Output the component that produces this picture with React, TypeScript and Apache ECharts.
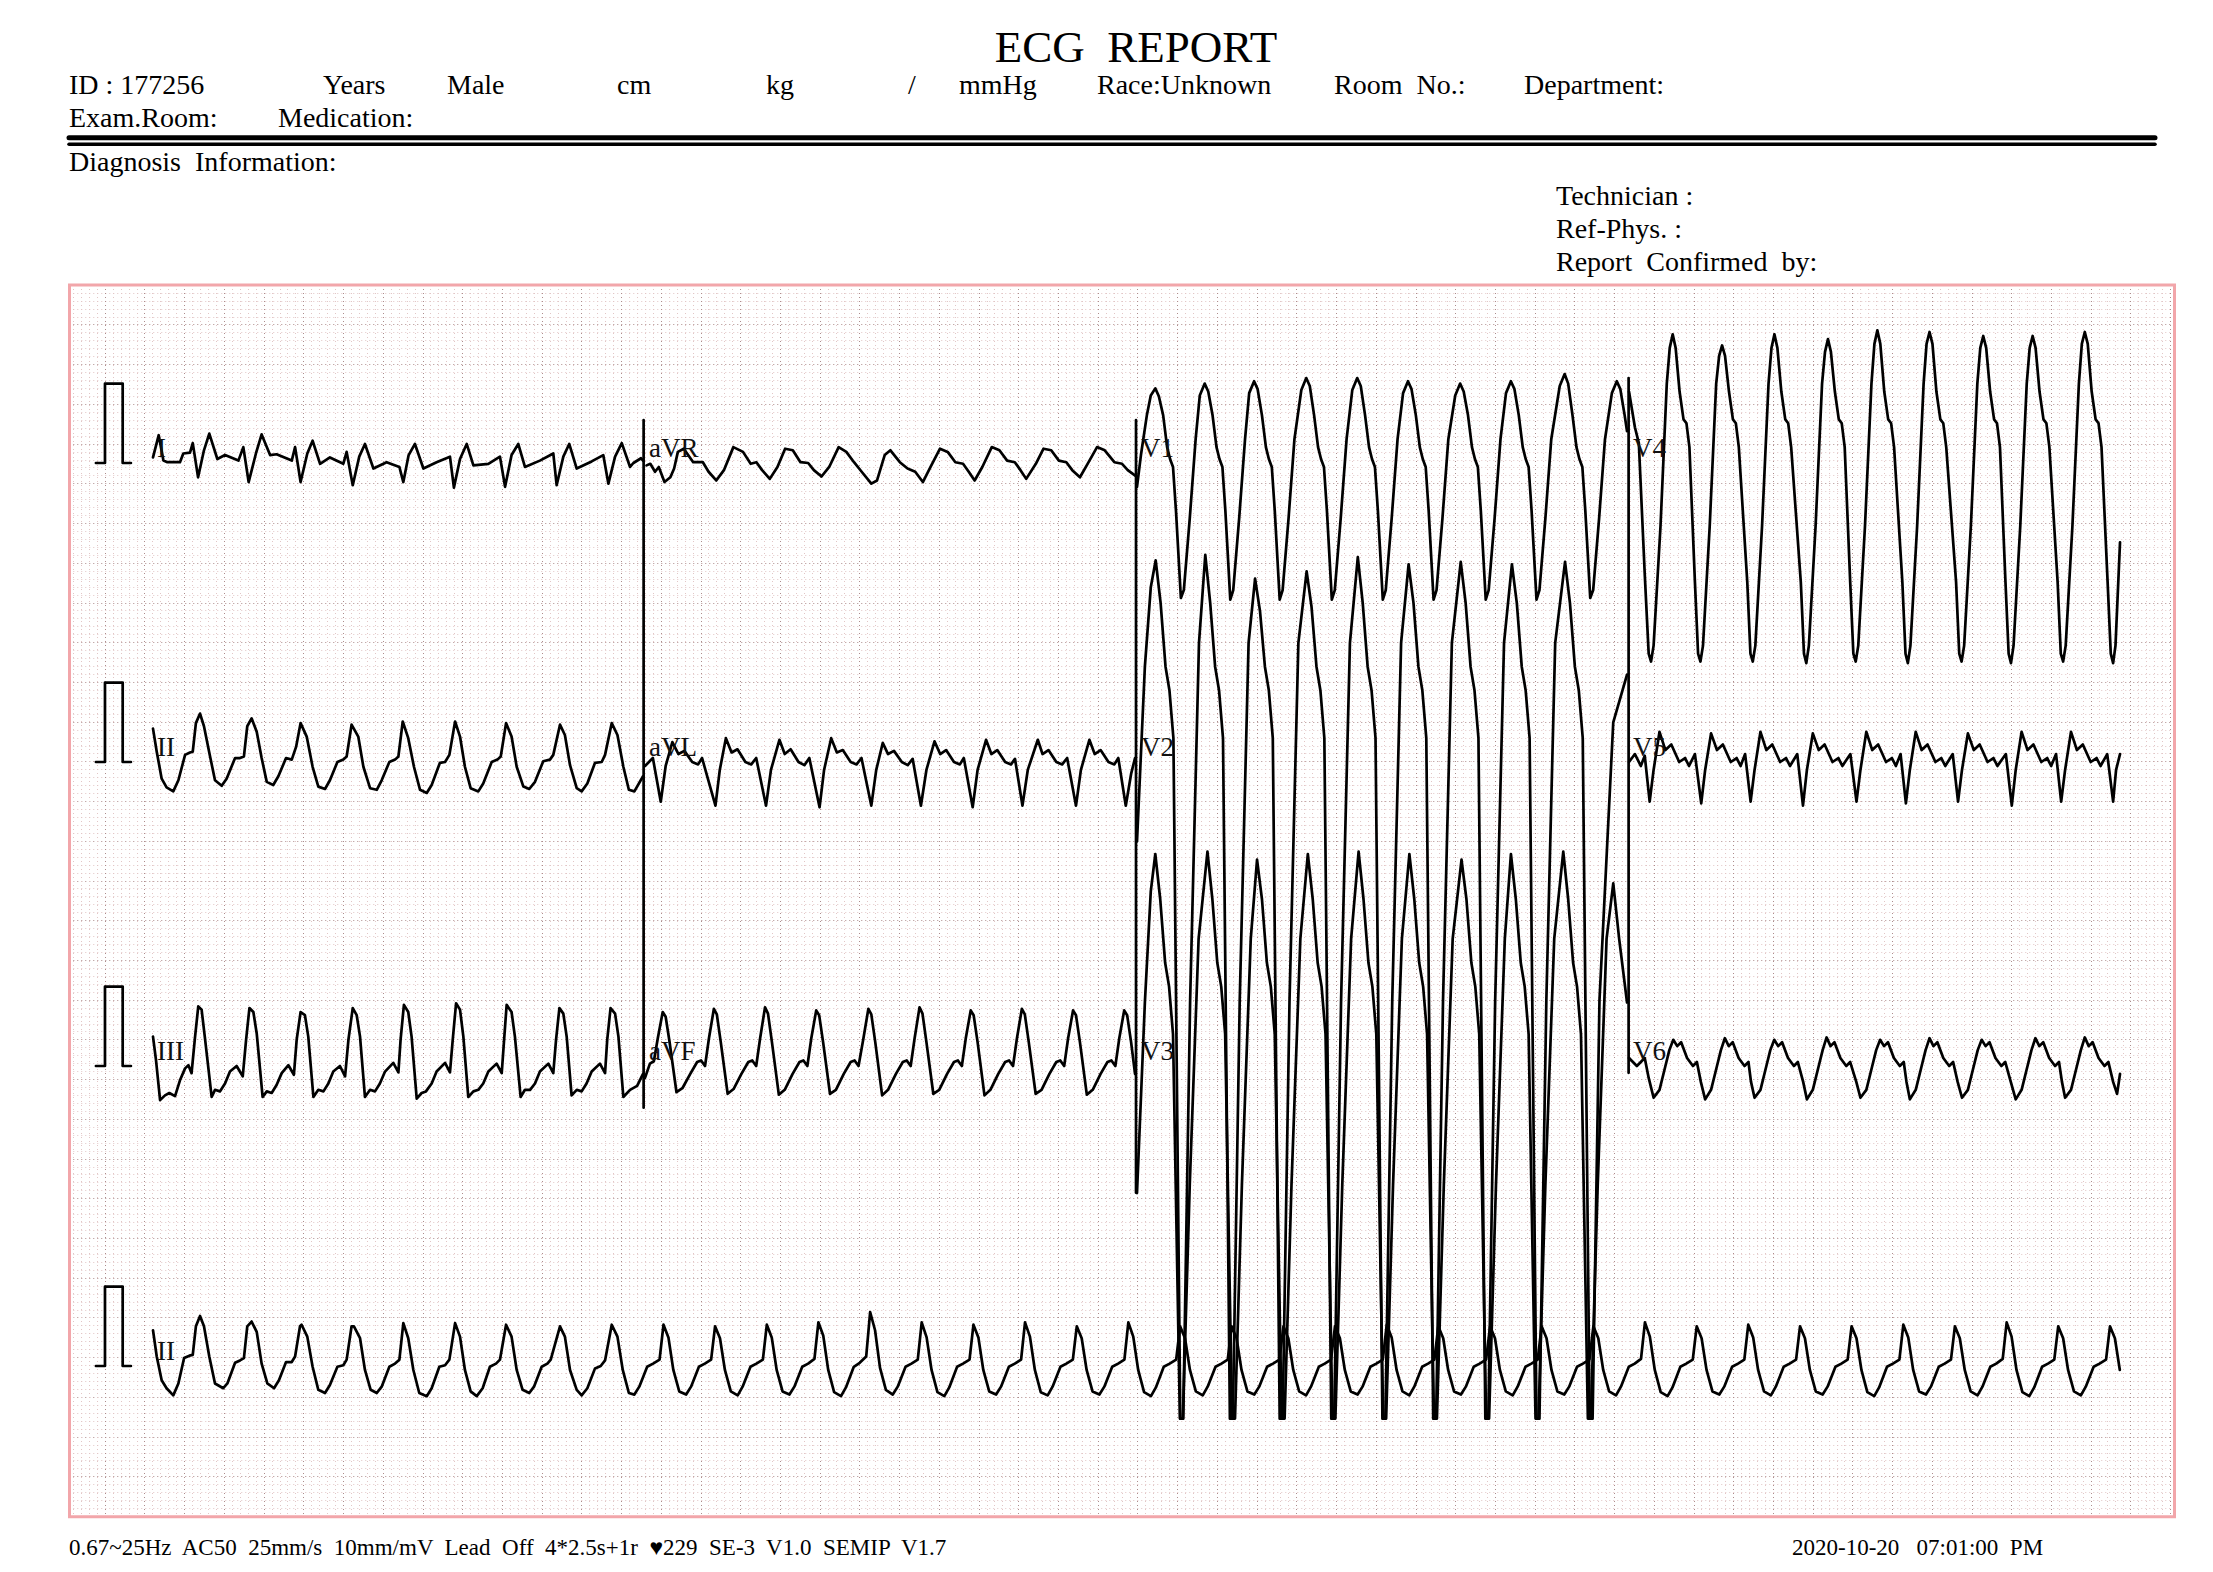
import React, { useEffect, useRef } from "react";
import * as echarts from "echarts";

// ---------------- data (t in s from lead start, v in mV) ----------------
const leadI: number[][] = [
  [0,0.07],[0.029,0.35],[0.053,0.03],[0.073,0.01],[0.137,0.01],[0.154,0.12],[0.188,0.13],[0.202,0.25],[0.229,-0.18],[0.259,0.16],[0.286,0.37],[0.327,0.05],[0.366,0.10],[0.434,0.03],[0.459,0.20],[0.486,-0.24],[0.523,0.12],[0.552,0.36],[0.595,0.10],[0.628,0.11],[0.705,0.03],[0.722,0.20],[0.750,-0.24],[0.784,0.12],[0.811,0.28],[0.849,-0.01],[0.899,0.07],[0.967,-0.01],[0.984,0.14],[1.015,-0.28],[1.048,0.08],[1.077,0.24],[1.12,-0.07],[1.187,0.01],[1.252,-0.05],[1.272,-0.24],[1.299,0.10],[1.331,0.24],[1.374,-0.07],[1.441,0.01],[1.509,0.08],[1.529,-0.31],[1.56,0.05],[1.594,0.24],[1.628,-0.03],[1.704,-0.01],[1.763,0.08],[1.789,-0.30],[1.822,0.10],[1.856,0.24],[1.89,-0.05],[1.966,0.03],[2.034,0.12],[2.051,-0.28],[2.085,0.08],[2.115,0.24],[2.153,-0.07],[2.229,0.02],[2.288,0.10],[2.314,-0.26],[2.348,0.08],[2.382,0.25],[2.424,-0.05],[2.441,0.0],[2.48,0.06],[2.49,0.03]
];
const leadII: number[][] = [
  [0,0.42],[0.019,0.13],[0.044,-0.21],[0.069,-0.32],[0.103,-0.37],[0.129,-0.23],[0.163,0.09],[0.188,0.12],[0.202,0.13],[0.218,0.49],[0.239,0.61],[0.259,0.45],[0.29,0.07],[0.315,-0.23],[0.349,-0.30],[0.374,-0.21],[0.417,0.05],[0.442,0.05],[0.462,0.07],[0.479,0.45],[0.501,0.55],[0.527,0.38],[0.552,0.05],[0.578,-0.25],[0.611,-0.29],[0.637,-0.18],[0.676,0.05],[0.705,0.03],[0.727,0.19],[0.750,0.49],[0.781,0.32],[0.811,-0.06],[0.84,-0.31],[0.874,-0.34],[0.899,-0.23],[0.937,0.0],[0.967,0.03],[0.984,0.07],[1.009,0.47],[1.043,0.32],[1.069,-0.06],[1.103,-0.33],[1.137,-0.35],[1.162,-0.23],[1.201,0.0],[1.23,0.03],[1.247,0.07],[1.269,0.51],[1.297,0.30],[1.326,-0.06],[1.357,-0.35],[1.391,-0.39],[1.416,-0.29],[1.458,-0.01],[1.484,0.0],[1.506,0.09],[1.535,0.51],[1.56,0.32],[1.585,-0.06],[1.614,-0.33],[1.653,-0.37],[1.678,-0.27],[1.721,0.0],[1.75,0.03],[1.767,0.07],[1.794,0.49],[1.822,0.32],[1.848,-0.06],[1.882,-0.31],[1.912,-0.34],[1.941,-0.25],[1.983,0.01],[2.017,0.03],[2.034,0.09],[2.068,0.47],[2.093,0.34],[2.119,-0.04],[2.153,-0.33],[2.178,-0.37],[2.207,-0.27],[2.246,-0.01],[2.28,0.0],[2.297,0.09],[2.331,0.49],[2.36,0.34],[2.39,-0.06],[2.418,-0.35],[2.446,-0.37],[2.49,-0.18]
];
const leadIII: number[][] = [
  [0,0.37],[0.015,0.08],[0.036,-0.43],[0.061,-0.37],[0.083,-0.34],[0.112,-0.38],[0.137,-0.18],[0.163,-0.03],[0.18,0.01],[0.196,-0.09],[0.213,0.35],[0.23,0.75],[0.247,0.71],[0.264,0.35],[0.298,-0.39],[0.315,-0.30],[0.34,-0.32],[0.366,-0.22],[0.391,-0.07],[0.425,0.0],[0.456,-0.13],[0.473,0.33],[0.49,0.73],[0.51,0.68],[0.527,0.41],[0.557,-0.39],[0.578,-0.32],[0.603,-0.34],[0.628,-0.24],[0.654,-0.09],[0.688,0.01],[0.716,-0.11],[0.73,0.33],[0.75,0.68],[0.772,0.64],[0.789,0.37],[0.815,-0.39],[0.84,-0.30],[0.866,-0.32],[0.891,-0.22],[0.916,-0.07],[0.95,0.0],[0.976,-0.13],[0.993,0.33],[1.015,0.73],[1.035,0.64],[1.052,0.37],[1.077,-0.39],[1.103,-0.30],[1.128,-0.32],[1.153,-0.22],[1.179,-0.07],[1.221,0.04],[1.247,-0.08],[1.258,0.33],[1.275,0.77],[1.297,0.68],[1.314,0.37],[1.34,-0.41],[1.365,-0.34],[1.387,-0.32],[1.416,-0.22],[1.441,-0.07],[1.484,0.04],[1.509,-0.08],[1.523,0.33],[1.54,0.79],[1.56,0.71],[1.577,0.37],[1.602,-0.39],[1.628,-0.32],[1.653,-0.30],[1.678,-0.22],[1.704,-0.07],[1.746,0.03],[1.772,-0.09],[1.784,0.33],[1.797,0.77],[1.822,0.68],[1.839,0.37],[1.868,-0.39],[1.89,-0.30],[1.916,-0.30],[1.941,-0.22],[1.966,-0.07],[2.009,0.03],[2.034,-0.09],[2.048,0.33],[2.065,0.73],[2.085,0.66],[2.102,0.37],[2.127,-0.37],[2.153,-0.30],[2.178,-0.32],[2.203,-0.22],[2.229,-0.07],[2.271,0.03],[2.297,-0.09],[2.308,0.33],[2.325,0.73],[2.348,0.66],[2.365,0.37],[2.39,-0.39],[2.424,-0.30],[2.46,-0.25],[2.49,-0.1]
];
const leadAVR: number[][] = [
  [0.008,-0.03],[0.027,-0.01],[0.051,-0.11],[0.07,-0.05],[0.099,-0.24],[0.129,-0.18],[0.148,-0.07],[0.167,0.14],[0.197,0.18],[0.245,0.01],[0.294,0.01],[0.323,-0.11],[0.362,-0.22],[0.401,-0.09],[0.449,0.20],[0.498,0.14],[0.537,-0.01],[0.566,0.01],[0.595,-0.09],[0.634,-0.20],[0.673,-0.05],[0.712,0.18],[0.751,0.16],[0.79,0.01],[0.829,0.0],[0.858,-0.09],[0.897,-0.17],[0.936,-0.05],[0.984,0.20],[1.023,0.14],[1.062,0.01],[1.101,-0.11],[1.15,-0.26],[1.179,-0.22],[1.218,0.10],[1.247,0.16],[1.295,0.01],[1.334,-0.07],[1.373,-0.11],[1.412,-0.24],[1.451,-0.05],[1.499,0.18],[1.538,0.14],[1.577,0.01],[1.616,-0.01],[1.645,-0.11],[1.675,-0.22],[1.714,-0.05],[1.762,0.20],[1.801,0.16],[1.84,0.03],[1.879,0.01],[1.908,-0.09],[1.937,-0.20],[1.986,-0.01],[2.025,0.18],[2.064,0.16],[2.103,0.03],[2.141,0.01],[2.171,-0.09],[2.21,-0.18],[2.249,-0.01],[2.297,0.20],[2.336,0.16],[2.385,0.01],[2.424,-0.01],[2.453,-0.09],[2.491,-0.16]
];
const leadAVL: number[][] = [
  [0,-0.05],[0.04,0.05],[0.08,-0.5],[0.105,-0.05],[0.139,0.25],[0.17,0.1],[0.2,0.14],[0.24,0.0],[0.27,-0.03],[0.29,0.05],
  [0.358,-0.55],[0.38,-0.1],[0.411,0.30],[0.44,0.12],[0.47,0.16],[0.51,0.0],[0.54,-0.03],[0.565,0.05],
  [0.615,-0.55],[0.64,-0.1],[0.683,0.28],[0.71,0.1],[0.74,0.16],[0.78,0.0],[0.81,-0.04],[0.835,0.05],
  [0.887,-0.57],[0.91,-0.1],[0.946,0.30],[0.975,0.12],[1.005,0.15],[1.045,0.0],[1.075,-0.03],[1.1,0.05],
  [1.15,-0.55],[1.175,-0.1],[1.208,0.24],[1.235,0.1],[1.265,0.14],[1.305,0.0],[1.335,-0.04],[1.36,0.04],
  [1.402,-0.55],[1.43,-0.1],[1.471,0.26],[1.5,0.1],[1.53,0.15],[1.57,0.0],[1.6,-0.03],[1.62,0.05],
  [1.665,-0.57],[1.69,-0.1],[1.733,0.28],[1.76,0.1],[1.79,0.15],[1.83,0.0],[1.86,-0.03],[1.88,0.04],
  [1.918,-0.55],[1.945,-0.1],[1.996,0.28],[2.02,0.1],[2.05,0.15],[2.09,0.0],[2.12,-0.03],[2.145,0.05],
  [2.19,-0.55],[2.215,-0.1],[2.258,0.28],[2.285,0.1],[2.315,0.15],[2.355,0.0],[2.385,-0.03],[2.405,0.05],
  [2.443,-0.55],[2.47,-0.15],[2.49,0.05]
];
const leadAVF: number[][] = [
  [0,-0.15],[0.025,0.03],[0.045,0.06],[0.065,0.35],
  [0.09,0.68],[0.105,0.62],[0.125,0.3],[0.16,-0.33],[0.19,-0.28],[0.23,-0.1],[0.265,0.05],[0.285,0.07],[0.305,0.0],[0.325,0.35],
  [0.35,0.72],[0.365,0.65],[0.385,0.3],[0.42,-0.35],[0.45,-0.29],[0.49,-0.1],[0.525,0.05],[0.545,0.07],[0.565,0.0],[0.585,0.35],
  [0.61,0.74],[0.625,0.66],[0.645,0.3],[0.68,-0.36],[0.71,-0.3],[0.75,-0.1],[0.785,0.05],[0.805,0.07],[0.825,0.0],[0.845,0.35],
  [0.87,0.70],[0.885,0.64],[0.905,0.3],[0.94,-0.35],[0.97,-0.3],[1.01,-0.1],[1.045,0.05],[1.065,0.07],[1.085,0.0],[1.11,0.35],
  [1.135,0.72],[1.15,0.65],[1.17,0.3],[1.205,-0.37],[1.235,-0.3],[1.275,-0.1],[1.31,0.05],[1.33,0.07],[1.35,0.0],[1.37,0.35],
  [1.395,0.74],[1.41,0.66],[1.43,0.3],[1.465,-0.35],[1.495,-0.3],[1.535,-0.1],[1.57,0.05],[1.59,0.07],[1.61,0.0],[1.63,0.35],
  [1.655,0.70],[1.67,0.64],[1.69,0.3],[1.725,-0.37],[1.755,-0.3],[1.795,-0.1],[1.83,0.05],[1.85,0.07],[1.87,0.0],[1.89,0.35],
  [1.915,0.72],[1.93,0.65],[1.95,0.3],[1.985,-0.35],[2.015,-0.3],[2.055,-0.1],[2.09,0.05],[2.11,0.07],[2.13,0.0],[2.15,0.35],
  [2.175,0.70],[2.19,0.64],[2.21,0.3],[2.245,-0.36],[2.275,-0.3],[2.315,-0.1],[2.35,0.05],[2.37,0.07],[2.39,0.0],[2.41,0.35],
  [2.435,0.70],[2.45,0.64],[2.47,0.3],[2.49,-0.1]
];
const leadV1: number[][] = [
  [0,-0.3],[0.02,0.1],[0.05,0.6],[0.07,0.85],
  [0.093,0.94],[0.111,0.84],[0.133,0.6],[0.153,0.2],[0.168,0.05],[0.183,-0.05],[0.198,-0.6],[0.223,-1.7],[0.238,-1.6],[0.268,-0.7],[0.298,0.3],[0.319,0.85],
  [0.344,1.0],[0.362,0.9],[0.384,0.6],[0.404,0.2],[0.419,0.05],[0.434,-0.05],[0.449,-0.6],[0.474,-1.72],[0.489,-1.6],[0.519,-0.7],[0.549,0.3],[0.57,0.88],
  [0.595,1.03],[0.613,0.93],[0.635,0.6],[0.655,0.2],[0.67,0.05],[0.685,-0.05],[0.7,-0.6],[0.725,-1.72],[0.74,-1.6],[0.77,-0.7],[0.8,0.3],[0.835,0.92],
  [0.86,1.07],[0.878,0.97],[0.9,0.6],[0.92,0.2],[0.935,0.05],[0.95,-0.05],[0.965,-0.6],[0.99,-1.72],[1.005,-1.6],[1.035,-0.7],[1.065,0.3],[1.094,0.92],
  [1.119,1.07],[1.137,0.97],[1.159,0.6],[1.179,0.2],[1.194,0.05],[1.209,-0.05],[1.224,-0.6],[1.249,-1.72],[1.264,-1.6],[1.294,-0.7],[1.324,0.3],[1.352,0.88],
  [1.377,1.03],[1.395,0.93],[1.417,0.6],[1.437,0.2],[1.452,0.05],[1.467,-0.05],[1.482,-0.6],[1.507,-1.72],[1.522,-1.6],[1.552,-0.7],[1.582,0.3],[1.617,0.85],
  [1.642,1.0],[1.66,0.9],[1.682,0.6],[1.702,0.2],[1.717,0.05],[1.732,-0.05],[1.747,-0.6],[1.772,-1.72],[1.787,-1.6],[1.817,-0.7],[1.847,0.3],[1.875,0.88],
  [1.9,1.03],[1.918,0.93],[1.94,0.6],[1.96,0.2],[1.975,0.05],[1.99,-0.05],[2.005,-0.6],[2.03,-1.72],[2.045,-1.6],[2.075,-0.7],[2.105,0.3],[2.148,0.97],
  [2.173,1.12],[2.191,1.0],[2.213,0.6],[2.233,0.2],[2.248,0.05],[2.263,-0.05],[2.278,-0.6],[2.303,-1.7],[2.318,-1.6],[2.348,-0.7],[2.378,0.3],[2.413,0.88],
  [2.438,1.03],[2.456,0.93],[2.478,0.6],[2.49,0.4]
];
const leadV2: number[][] = [
  [0,-1.0],[0.04,1.2],[0.07,2.2],
  [0.095,2.54],[0.12,2.0],[0.145,1.2],[0.165,0.9],[0.185,0.3],[0.22,-8.27],[0.235,-8.27],[0.27,-3.0],[0.315,1.5],
  [0.347,2.61],[0.372,2.0],[0.397,1.2],[0.417,0.9],[0.437,0.3],[0.472,-8.27],[0.487,-8.27],[0.522,-3.0],[0.567,1.5],
  [0.6,2.31],[0.625,1.9],[0.65,1.2],[0.67,0.9],[0.69,0.3],[0.725,-8.27],[0.74,-8.27],[0.775,-3.0],[0.82,1.5],
  [0.862,2.4],[0.887,1.95],[0.912,1.2],[0.932,0.9],[0.952,0.3],[0.987,-8.27],[1.002,-8.27],[1.037,-3.0],[1.082,1.5],
  [1.122,2.58],[1.147,2.0],[1.172,1.2],[1.192,0.9],[1.212,0.3],[1.247,-8.27],[1.262,-8.27],[1.297,-3.0],[1.342,1.5],
  [1.38,2.49],[1.405,2.0],[1.43,1.2],[1.45,0.9],[1.47,0.3],[1.505,-8.27],[1.52,-8.27],[1.555,-3.0],[1.6,1.5],
  [1.645,2.52],[1.67,2.0],[1.695,1.2],[1.715,0.9],[1.735,0.3],[1.77,-8.27],[1.785,-8.27],[1.82,-3.0],[1.865,1.5],
  [1.905,2.49],[1.93,2.0],[1.955,1.2],[1.975,0.9],[1.995,0.3],[2.03,-8.27],[2.045,-8.27],[2.08,-3.0],[2.125,1.5],
  [2.175,2.52],[2.2,2.0],[2.225,1.2],[2.245,0.9],[2.265,0.3],[2.3,-8.27],[2.315,-8.27],[2.35,-3.0],[2.42,0.5],[2.49,1.1]
];
const leadV3: number[][] = [
  [0,-1.6],[0.04,0.8],[0.07,2.2],
  [0.093,2.67],[0.118,2.1],[0.143,1.3],[0.163,1.0],[0.183,0.4],[0.218,-4.44],[0.233,-4.44],[0.268,-1.5],[0.313,1.6],
  [0.358,2.7],[0.383,2.1],[0.408,1.3],[0.428,1.0],[0.448,0.4],[0.483,-4.44],[0.498,-4.44],[0.533,-1.5],[0.578,1.6],
  [0.61,2.6],[0.635,2.1],[0.66,1.3],[0.68,1.0],[0.7,0.4],[0.735,-4.44],[0.75,-4.44],[0.785,-1.5],[0.83,1.6],
  [0.868,2.67],[0.893,2.1],[0.918,1.3],[0.938,1.0],[0.958,0.4],[0.993,-4.44],[1.008,-4.44],[1.043,-1.5],[1.088,1.6],
  [1.126,2.7],[1.151,2.1],[1.176,1.3],[1.196,1.0],[1.216,0.4],[1.251,-4.44],[1.266,-4.44],[1.301,-1.5],[1.346,1.6],
  [1.384,2.67],[1.409,2.1],[1.434,1.3],[1.454,1.0],[1.474,0.4],[1.509,-4.44],[1.524,-4.44],[1.559,-1.5],[1.604,1.6],
  [1.649,2.6],[1.674,2.1],[1.699,1.3],[1.719,1.0],[1.739,0.4],[1.774,-4.44],[1.789,-4.44],[1.824,-1.5],[1.869,1.6],
  [1.9,2.67],[1.925,2.1],[1.95,1.3],[1.97,1.0],[1.99,0.4],[2.025,-4.44],[2.04,-4.44],[2.075,-1.5],[2.12,1.6],
  [2.166,2.7],[2.191,2.1],[2.216,1.3],[2.236,1.0],[2.256,0.4],[2.291,-4.44],[2.306,-4.44],[2.341,-1.5],[2.386,1.6],
  [2.42,2.3],[2.45,1.6],[2.49,0.8]
];
const leadV4: number[][] = [
  [0,0.9],[0.03,0.45],[0.05,0.25],[0.08,-1.4],[0.1,-2.4],[0.112,-2.5],[0.125,-2.3],[0.16,-0.8],[0.192,1.0],[0.207,1.45],
  [0.222,1.62],[0.237,1.45],[0.257,0.9],[0.277,0.55],[0.292,0.5],[0.307,0.2],[0.335,-1.5],[0.351,-2.4],[0.363,-2.5],[0.376,-2.3],[0.41,-0.8],[0.443,1.0],[0.458,1.35],
  [0.473,1.48],[0.488,1.35],[0.508,0.9],[0.528,0.55],[0.543,0.5],[0.558,0.2],[0.601,-1.5],[0.617,-2.4],[0.629,-2.5],[0.642,-2.3],[0.676,-0.8],[0.709,1.0],[0.724,1.45],
  [0.739,1.62],[0.754,1.45],[0.774,0.9],[0.794,0.55],[0.809,0.5],[0.824,0.2],[0.873,-1.5],[0.889,-2.4],[0.901,-2.52],[0.914,-2.3],[0.948,-0.8],[0.981,1.0],[0.996,1.4],
  [1.011,1.56],[1.026,1.4],[1.046,0.9],[1.066,0.55],[1.081,0.5],[1.096,0.2],[1.124,-1.5],[1.14,-2.4],[1.152,-2.5],[1.165,-2.3],[1.199,-0.8],[1.232,1.0],[1.247,1.5],
  [1.262,1.67],[1.277,1.5],[1.297,0.9],[1.317,0.55],[1.332,0.5],[1.347,0.2],[1.389,-1.5],[1.405,-2.4],[1.417,-2.52],[1.43,-2.3],[1.464,-0.8],[1.497,1.0],[1.512,1.5],
  [1.527,1.65],[1.542,1.5],[1.562,0.9],[1.582,0.55],[1.597,0.5],[1.612,0.2],[1.662,-1.5],[1.678,-2.4],[1.69,-2.5],[1.703,-2.3],[1.737,-0.8],[1.77,1.0],[1.785,1.45],
  [1.8,1.6],[1.815,1.45],[1.835,0.9],[1.855,0.55],[1.87,0.5],[1.885,0.2],[1.913,-1.5],[1.929,-2.4],[1.941,-2.52],[1.954,-2.3],[1.988,-0.8],[2.021,1.0],[2.036,1.45],
  [2.051,1.6],[2.066,1.45],[2.086,0.9],[2.106,0.55],[2.121,0.5],[2.136,0.2],[2.178,-1.5],[2.194,-2.4],[2.206,-2.5],[2.219,-2.3],[2.253,-0.8],[2.286,1.0],[2.301,1.5],
  [2.316,1.65],[2.331,1.5],[2.351,0.9],[2.371,0.55],[2.386,0.5],[2.401,0.2],[2.432,-1.5],[2.448,-2.4],[2.46,-2.52],[2.472,-2.3],[2.495,-1.0]
];
const leadV5: number[][] = [
  [0,0.0],[0.03,0.1],[0.06,-0.05],[0.08,0.08],
  [0.105,-0.5],[0.125,-0.1],[0.155,0.38],[0.185,0.15],[0.215,0.22],[0.255,0.0],[0.285,0.05],[0.305,-0.05],[0.335,0.1],
  [0.367,-0.52],[0.387,-0.1],[0.417,0.36],[0.447,0.15],[0.477,0.22],[0.517,0.0],[0.547,0.05],[0.567,-0.05],[0.59,0.1],
  [0.618,-0.5],[0.638,-0.1],[0.668,0.38],[0.698,0.15],[0.728,0.22],[0.768,0.0],[0.798,0.05],[0.818,-0.05],[0.855,0.1],
  [0.884,-0.55],[0.904,-0.1],[0.934,0.36],[0.964,0.15],[0.994,0.22],[1.034,0.0],[1.064,0.05],[1.084,-0.05],[1.125,0.1],
  [1.156,-0.5],[1.176,-0.1],[1.206,0.38],[1.236,0.15],[1.266,0.22],[1.306,0.0],[1.336,0.05],[1.356,-0.05],[1.38,0.1],
  [1.407,-0.52],[1.427,-0.1],[1.457,0.38],[1.487,0.15],[1.517,0.22],[1.557,0.0],[1.587,0.05],[1.607,-0.05],[1.645,0.1],
  [1.672,-0.5],[1.692,-0.1],[1.722,0.36],[1.752,0.15],[1.782,0.22],[1.822,0.0],[1.852,0.05],[1.872,-0.05],[1.915,0.1],
  [1.945,-0.55],[1.965,-0.1],[1.995,0.38],[2.025,0.15],[2.055,0.22],[2.095,0.0],[2.125,0.05],[2.145,-0.05],[2.17,0.1],
  [2.196,-0.5],[2.216,-0.1],[2.246,0.38],[2.276,0.15],[2.306,0.22],[2.346,0.0],[2.376,0.05],[2.396,-0.05],[2.43,0.1],
  [2.46,-0.5],[2.475,-0.1],[2.495,0.1]
];
const leadV6: number[][] = [
  [0,0.1],[0.04,0.0],[0.08,0.1],[0.1,-0.15],
  [0.125,-0.4],[0.155,-0.3],[0.185,0.0],[0.205,0.2],[0.225,0.33],[0.245,0.25],[0.265,0.3],[0.295,0.1],[0.325,0.0],[0.345,0.05],[0.365,-0.2],
  [0.387,-0.42],[0.417,-0.3],[0.447,0.0],[0.467,0.2],[0.487,0.35],[0.507,0.25],[0.527,0.3],[0.557,0.1],[0.587,0.0],[0.607,0.05],[0.62,-0.2],
  [0.638,-0.4],[0.668,-0.3],[0.698,0.0],[0.718,0.2],[0.738,0.33],[0.758,0.25],[0.778,0.3],[0.808,0.1],[0.838,0.0],[0.858,0.05],[0.885,-0.2],
  [0.904,-0.42],[0.934,-0.3],[0.964,0.0],[0.984,0.2],[1.004,0.36],[1.024,0.25],[1.044,0.3],[1.074,0.1],[1.104,0.0],[1.124,0.05],[1.155,-0.2],
  [1.176,-0.4],[1.206,-0.3],[1.236,0.0],[1.256,0.2],[1.276,0.33],[1.296,0.25],[1.316,0.3],[1.346,0.1],[1.376,0.0],[1.396,0.05],[1.41,-0.2],
  [1.427,-0.42],[1.457,-0.3],[1.487,0.0],[1.507,0.2],[1.527,0.35],[1.547,0.25],[1.567,0.3],[1.597,0.1],[1.627,0.0],[1.647,0.05],[1.67,-0.2],
  [1.692,-0.4],[1.722,-0.3],[1.752,0.0],[1.772,0.2],[1.792,0.33],[1.812,0.25],[1.832,0.3],[1.862,0.1],[1.892,0.0],[1.912,0.05],[1.94,-0.2],
  [1.965,-0.42],[1.995,-0.3],[2.025,0.0],[2.045,0.2],[2.065,0.35],[2.085,0.25],[2.105,0.3],[2.135,0.1],[2.165,0.0],[2.185,0.05],[2.2,-0.2],
  [2.216,-0.4],[2.246,-0.3],[2.276,0.0],[2.296,0.2],[2.316,0.36],[2.336,0.25],[2.356,0.3],[2.386,0.1],[2.416,0.0],[2.436,0.05],[2.46,-0.2],
  [2.48,-0.35],[2.495,-0.1]
];
// rhythm strip II, 10 s (t from the start of the strip)
const rhythmII: number[][] = [
  [0,0.45],[0.019,0.12],[0.044,-0.18],[0.069,-0.28],[0.103,-0.37],[0.129,-0.22],[0.158,0.10],[0.185,0.13],[0.202,0.14],[0.218,0.50],[0.239,0.63],[0.259,0.50],[0.286,0.12],[0.315,-0.22],[0.357,-0.28],[0.378,-0.22],[0.417,0.04],[0.442,0.07],[0.462,0.10],[0.479,0.50],[0.501,0.56],[0.527,0.43],[0.552,0.03],[0.581,-0.22],[0.615,-0.28],[0.64,-0.18],[0.676,0.05],[0.705,0.05],[0.722,0.12],[0.747,0.50],[0.755,0.52],[0.784,0.37],[0.811,-0.01],[0.84,-0.30],[0.874,-0.34],[0.899,-0.24],[0.937,-0.01],[0.967,0.01],[0.984,0.08],[1.009,0.50],[1.021,0.50],[1.052,0.35],[1.077,-0.05],[1.106,-0.30],[1.137,-0.34],[1.162,-0.26],[1.201,-0.01],[1.23,0.03],[1.252,0.08],[1.272,0.54],[1.297,0.35],[1.323,-0.05],[1.353,-0.34],[1.391,-0.38],[1.416,-0.28],[1.455,-0.01],[1.484,0.01],[1.506,0.08],[1.535,0.54],[1.56,0.37],[1.585,-0.05],[1.614,-0.32],[1.645,-0.38],[1.675,-0.28],[1.712,-0.01],[1.743,0.03],[1.763,0.08],[1.794,0.52],[1.822,0.37],[1.848,-0.05],[1.878,-0.30],[1.912,-0.34],[1.936,-0.26],[1.975,-0.01],[2.004,0.03],[2.021,0.08],[2.068,0.50],[2.093,0.37],[2.119,-0.05],[2.153,-0.30],[2.178,-0.37],[2.207,-0.28],[2.246,-0.03],[2.275,0.0],[2.297,0.07],[2.331,0.52],[2.36,0.37],[2.387,-0.05],[2.418,-0.34],
  [2.446,-0.36],[2.471,-0.26],[2.511,-0.01],[2.541,0.03],
  [2.574,0.08],[2.594,0.52],[2.619,0.36],[2.644,-0.05],[2.674,-0.32],[2.709,-0.36],[2.734,-0.26],[2.774,-0.01],[2.804,0.03],
  [2.836,0.08],[2.856,0.50],[2.881,0.35],[2.906,-0.05],[2.936,-0.32],[2.971,-0.37],[2.996,-0.26],[3.036,-0.01],[3.066,0.03],
  [3.099,0.08],[3.119,0.52],[3.144,0.36],[3.169,-0.05],[3.199,-0.32],[3.234,-0.36],[3.259,-0.26],[3.299,-0.01],[3.329,0.03],
  [3.361,0.09],[3.381,0.55],[3.406,0.38],[3.431,-0.05],[3.461,-0.33],[3.496,-0.38],[3.521,-0.27],[3.561,-0.01],[3.591,0.04],
  [3.624,0.12],[3.644,0.68],[3.669,0.45],[3.694,-0.02],[3.724,-0.30],[3.759,-0.36],[3.784,-0.26],[3.824,-0.01],[3.854,0.03],
  [3.886,0.08],[3.906,0.55],[3.931,0.36],[3.956,-0.05],[3.986,-0.33],[4.021,-0.38],[4.046,-0.27],[4.086,-0.01],[4.116,0.03],
  [4.149,0.08],[4.169,0.52],[4.194,0.36],[4.219,-0.05],[4.249,-0.32],[4.284,-0.36],[4.309,-0.26],[4.349,-0.01],[4.379,0.03],
  [4.411,0.08],[4.431,0.55],[4.456,0.37],[4.481,-0.05],[4.511,-0.33],[4.546,-0.37],[4.571,-0.26],[4.611,-0.01],[4.641,0.03],
  [4.674,0.08],[4.694,0.50],[4.719,0.35],[4.744,-0.05],[4.774,-0.32],[4.809,-0.36],[4.834,-0.26],[4.874,-0.01],[4.904,0.03],
  [4.936,0.08],[4.956,0.55],[4.981,0.37],[5.006,-0.05],[5.036,-0.33],[5.071,-0.38],[5.096,-0.27],[5.136,-0.01],[5.166,0.03],
  [5.199,0.08],[5.219,0.50],[5.244,0.35],[5.269,-0.05],[5.299,-0.32],[5.334,-0.37],[5.359,-0.26],[5.399,-0.01],[5.429,0.03],
  [5.461,0.08],[5.481,0.50],[5.506,0.35],[5.531,-0.05],[5.561,-0.32],[5.596,-0.36],[5.621,-0.26],[5.661,-0.01],[5.691,0.03],
  [5.724,0.08],[5.744,0.50],[5.769,0.35],[5.794,-0.05],[5.824,-0.32],[5.859,-0.37],[5.884,-0.26],[5.924,-0.01],[5.954,0.03],
  [5.986,0.08],[6.006,0.50],[6.031,0.35],[6.056,-0.05],[6.086,-0.32],[6.121,-0.36],[6.146,-0.26],[6.186,-0.01],[6.216,0.03],
  [6.249,0.08],[6.269,0.52],[6.294,0.36],[6.319,-0.05],[6.349,-0.32],[6.384,-0.37],[6.409,-0.26],[6.449,-0.01],[6.479,0.03],
  [6.511,0.08],[6.531,0.50],[6.556,0.35],[6.581,-0.05],[6.611,-0.32],[6.646,-0.36],[6.671,-0.26],[6.711,-0.01],[6.741,0.03],
  [6.774,0.08],[6.794,0.50],[6.819,0.35],[6.844,-0.05],[6.874,-0.32],[6.909,-0.37],[6.934,-0.26],[6.974,-0.01],[7.004,0.03],
  [7.036,0.08],[7.056,0.50],[7.081,0.35],[7.106,-0.05],[7.136,-0.32],[7.171,-0.36],[7.196,-0.26],[7.236,-0.01],[7.266,0.03],
  [7.299,0.08],[7.319,0.50],[7.344,0.35],[7.369,-0.05],[7.399,-0.32],[7.434,-0.37],[7.459,-0.26],[7.499,-0.01],[7.529,0.03],
  [7.561,0.09],[7.581,0.55],[7.606,0.37],[7.631,-0.05],[7.661,-0.33],[7.696,-0.38],[7.721,-0.27],[7.761,-0.01],[7.791,0.03],
  [7.824,0.08],[7.844,0.50],[7.869,0.35],[7.894,-0.05],[7.924,-0.32],[7.959,-0.36],[7.984,-0.26],[8.024,-0.01],[8.054,0.03],
  [8.086,0.08],[8.106,0.52],[8.131,0.36],[8.156,-0.05],[8.186,-0.32],[8.221,-0.37],[8.246,-0.26],[8.286,-0.01],[8.316,0.03],
  [8.349,0.08],[8.369,0.50],[8.394,0.35],[8.419,-0.05],[8.449,-0.32],[8.484,-0.36],[8.509,-0.26],[8.549,-0.01],[8.579,0.03],
  [8.611,0.08],[8.631,0.50],[8.656,0.35],[8.681,-0.05],[8.711,-0.33],[8.746,-0.38],[8.771,-0.27],[8.811,-0.01],[8.841,0.03],
  [8.874,0.08],[8.894,0.52],[8.919,0.36],[8.944,-0.05],[8.974,-0.32],[9.009,-0.36],[9.034,-0.26],[9.074,-0.01],[9.104,0.03],
  [9.136,0.08],[9.156,0.50],[9.181,0.35],[9.206,-0.05],[9.236,-0.32],[9.271,-0.37],[9.296,-0.26],[9.336,-0.01],[9.366,0.03],
  [9.399,0.09],[9.419,0.55],[9.444,0.37],[9.469,-0.05],[9.499,-0.33],[9.534,-0.38],[9.559,-0.27],[9.599,-0.01],[9.629,0.03],
  [9.661,0.08],[9.681,0.50],[9.706,0.35],[9.731,-0.05],[9.761,-0.32],[9.796,-0.37],[9.821,-0.26],[9.861,-0.01],[9.891,0.03],
  [9.924,0.08],[9.944,0.50],[9.969,0.35],[9.994,-0.05]
];

// calibration pulse (1 mV), times relative to the row's first lead
const calT = [-0.29, -0.244, -0.244, -0.154, -0.154, -0.112];
const calV = [0, 0, 1, 1, 0, 0];

const leadNames = ["I", "II", "III", "aVR", "aVL", "aVF", "V1", "V2", "V3", "V4", "V5", "V6"];
const leadData = [leadI, leadII, leadIII, leadAVR, leadAVL, leadAVF, leadV1, leadV2, leadV3, leadV4, leadV5, leadV6];
const segStarts = [0, 2.5, 5, 7.5];
// lead-change markers (drawn on row 1's axes, mV)
const markerT = [2.493, 4.995, 7.498];
const markerTop = [0.54, 0.54, 1.07];
const markerBottom = [-8.12, -9.19, -7.68];

const headerLine1 = ["ID : 177256", "Years", "Male", "cm", "kg", "/", "mmHg", "Race:Unknown", "Room  No.:", "Department:"];
const headerLine2 = ["Exam.Room:", "Medication:"];
const signLines = ["Technician :", "Ref-Phys. :", "Report  Confirmed  by:"];
const footerLeft = "0.67~25Hz  AC50  25mm/s  10mm/mV  Lead  Off  4*2.5s+1r  \u2665229  SE-3  V1.0  SEMIP  V1.7";
const footerRight = "2020-10-20   07:01:00  PM";

// ---------------- layout ----------------
const PX_S = 196.8;
const PX_MV = 79.4;
const X0 = 153;
const T_MIN = -0.4;
const ROW_BASE = [463, 762, 1066, 1366];
const MM = 7.944;
const PAPER_L = 65.28, PAPER_T = 285, PAPER_R = 2175, PAPER_B = 1516.7;
const FONT = '"Liberation Serif", "Times New Roman", serif';

function buildOption() {
  const grids: any[] = [{ left: PAPER_L, top: PAPER_T, width: PAPER_R - PAPER_L, height: PAPER_B - PAPER_T }];
  const xAxes: any[] = [];
  const yAxes: any[] = [];
  const hidden = { axisLine: { show: false }, axisTick: { show: false }, axisLabel: { show: false } };
  const major = { color: "#ad8c8c", width: 1, type: [1, 3] };
  const minor = { color: "#e2c6c6", width: 1, type: [1, 3] };
  xAxes.push({ type: "value", gridIndex: 0, min: 0, max: (PAPER_R - PAPER_L) / MM, interval: 5, ...hidden,
    splitLine: { show: true, showMinLine: false, showMaxLine: false, lineStyle: major },
    minorTick: { show: false, splitNumber: 5 }, minorSplitLine: { show: true, lineStyle: minor } });
  yAxes.push({ type: "value", gridIndex: 0, min: 0, max: (PAPER_B - PAPER_T) / MM, interval: 5, inverse: true, ...hidden,
    splitLine: { show: true, showMinLine: false, showMaxLine: false, lineStyle: major },
    minorTick: { show: false, splitNumber: 5 }, minorSplitLine: { show: true, lineStyle: minor } });
  ROW_BASE.forEach((b, i) => {
    grids.push({ left: X0 + T_MIN * PX_S, width: PX_S * (10 - T_MIN), top: b - 2 * PX_MV, height: 4 * PX_MV });
    xAxes.push({ type: "value", gridIndex: i + 1, min: T_MIN, max: 10, ...hidden, splitLine: { show: false } });
    yAxes.push({ type: "value", gridIndex: i + 1, min: -2, max: 2, ...hidden, splitLine: { show: false } });
  });

  const lineStyle = { color: "#000", width: 2.7, join: "round", cap: "round" };
  const series: any[] = [];
  const mk = (name: string, row: number, data: number[][]) => ({
    type: "line", name, xAxisIndex: row + 1, yAxisIndex: row + 1, data, symbol: "none", showSymbol: false,
    clip: false, silent: true, lineStyle, z: 3, animation: false,
  });
  leadNames.forEach((n, k) => {
    const row = k % 3;
    const seg = Math.floor(k / 3);
    series.push(mk(n, row, leadData[k].map(([t, v]) => [t + segStarts[seg], v])));
  });
  series.push(mk("II rhythm", 3, rhythmII));
  ROW_BASE.forEach((_, r) => {
    series.push(mk("cal" + r, r, calT.map((t, i) => [t, calV[i]])));
  });
  markerT.forEach((t, i) => {
    series.push(mk("marker" + i, 0, [[t, markerTop[i]], [t, markerBottom[i]]]));
  });

  const txt = (text: string, x: number, y: number, size: number, align = "left", extra: any = {}) => ({
    type: "text", x, y, z: 20, silent: true,
    style: { text, font: `${size}px ${FONT}`, fill: "#000", align, verticalAlign: "middle", ...extra },
  });
  const l1x = [69, 323, 447, 617, 766, 908, 959, 1097, 1334, 1524];
  const graphic: any[] = [];
  graphic.push(txt("ECG  REPORT", 1136, 47, 45, "center"));
  headerLine1.forEach((s, i) => graphic.push(txt(s, l1x[i], 84, 28)));
  graphic.push(txt(headerLine2[0], 69, 117, 28));
  graphic.push(txt(headerLine2[1], 278, 117, 28));
  graphic.push({ type: "line", z: 20, shape: { x1: 69, y1: 137.7, x2: 2155, y2: 137.7 }, style: { stroke: "#000", lineWidth: 5, lineCap: "round" } });
  graphic.push({ type: "line", z: 20, shape: { x1: 69, y1: 144.2, x2: 2155, y2: 144.2 }, style: { stroke: "#000", lineWidth: 3.5, lineCap: "round" } });
  graphic.push(txt("Diagnosis  Information:", 69, 161, 28));
  signLines.forEach((s, i) => graphic.push(txt(s, 1556, 195 + i * 33, 28)));
  graphic.push({ type: "rect", z: 5, shape: { x: 55, y: 278, width: 13.5, height: 1245 }, style: { fill: "#fff" } });
  graphic.push({ type: "rect", z: 6, shape: { x: 69.5, y: 285, width: 2105, height: 1231.7 }, style: { fill: "none", stroke: "#f2a6aa", lineWidth: 3 } });
  graphic.push(txt(footerLeft, 69, 1547, 23));
  graphic.push(txt(footerRight, 1792, 1547, 23));
  leadNames.forEach((n, k) => {
    const row = k % 3;
    const seg = Math.floor(k / 3);
    graphic.push(txt(n, X0 + segStarts[seg] * PX_S + 4, ROW_BASE[row] - 15, 27, "left", { fill: "#111" }));
  });
  graphic.push(txt("II", X0 + 4, ROW_BASE[3] - 15, 27, "left", { fill: "#111" }));

  return {
    animation: false,
    backgroundColor: "#fff",
    grid: grids,
    xAxis: xAxes,
    yAxis: yAxes,
    series,
    graphic,
  };
}

export default function App() {
  const ref = useRef<HTMLDivElement>(null);
  useEffect(() => {
    if (!ref.current) return;
    const chart = echarts.init(ref.current, undefined, { renderer: "svg" });
    chart.setOption(buildOption() as any);
    return () => chart.dispose();
  }, []);
  return <div ref={ref} style={{ position: "absolute", left: 0, top: 0, width: 2213, height: 1572, background: "#fff" }} />;
}
